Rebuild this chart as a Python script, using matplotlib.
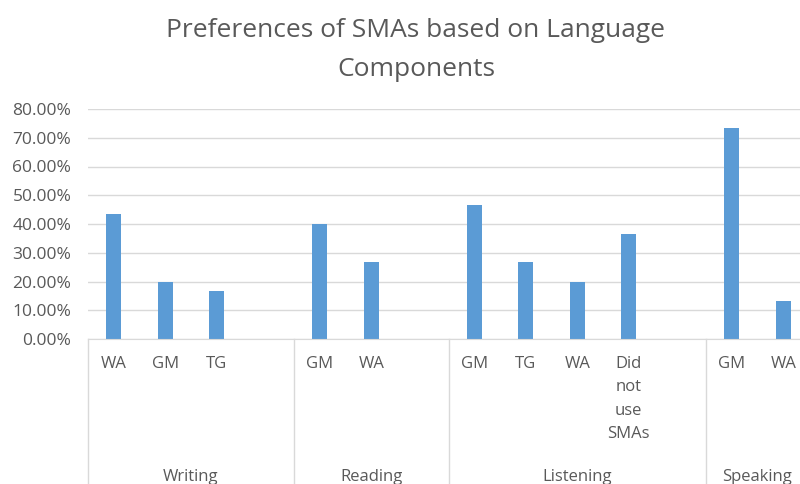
import matplotlib
matplotlib.use("Agg")
import matplotlib.pyplot as plt
from matplotlib.ticker import PercentFormatter, MultipleLocator
import matplotlib.transforms as mtransforms

plt.rcParams['font.family'] = ['Open Sans', 'DejaVu Sans']

# data
groups = ['Writing', 'Reading', 'Listening', 'Speaking']
group_items = [
    ['WA', 'GM', 'TG'],
    ['GM', 'WA'],
    ['GM', 'TG', 'WA', 'Did\nnot\nuse\nSMAs'],
    ['GM', 'WA'],
]
group_values = [
    [0.4333, 0.20, 0.1667],
    [0.40, 0.2667],
    [0.4667, 0.2667, 0.20, 0.3667],
    [0.7333, 0.1333],
]
# each group (except the last) gets one empty slot at its end
group_slots = [4, 3, 5, 2]

bar_color = '#5b9bd5'
text_color = '#595959'
grid_color = '#d9d9d9'

fig = plt.figure(figsize=(8, 4.84), dpi=100)
W, H = 800, 484
slot_px = 51.5
left_px, bottom_px, top_px = 88, 339, 109
total_slots = sum(group_slots)
ax = fig.add_axes([left_px / W, 1 - bottom_px / H,
                   total_slots * slot_px / W, (bottom_px - top_px) / H])

trans = mtransforms.blended_transform_factory(ax.transData, ax.transAxes)

start = 0
boundaries = [-0.5]
for name, items, vals, n in zip(groups, group_items, group_values, group_slots):
    xs = [start + i for i in range(len(items))]
    ax.bar(xs, vals, width=0.29, color=bar_color, zorder=3)
    for x, lab in zip(xs, items):
        ax.text(x, -0.075, lab, transform=trans, ha='center', va='top',
                fontsize=12, color=text_color, linespacing=1.6)
    mid = start - 0.5 + n / 2
    ax.text(mid, -0.6, name, transform=trans, ha='center', va='center',
            fontsize=12, color=text_color)
    start += n
    boundaries.append(start - 0.5)

for b in boundaries[:-1]:
    ax.plot([b, b], [0, -1], transform=trans, color=grid_color, lw=1,
            clip_on=False, zorder=2)

ax.set_xlim(-0.5, total_slots - 0.5)
ax.set_ylim(0, 0.8)
ax.yaxis.set_major_locator(MultipleLocator(0.1))
ax.yaxis.set_major_formatter(PercentFormatter(xmax=1, decimals=2))
ax.set_xticks([])
ax.tick_params(axis='y', length=0, pad=12, labelsize=12.5, labelcolor=text_color)
ax.grid(axis='y', color=grid_color, lw=1, zorder=0)
for s in ['left', 'right', 'top']:
    ax.spines[s].set_visible(False)
ax.spines['bottom'].set_color(grid_color)
ax.spines['bottom'].set_zorder(4)

fig.text(416 / W, 1 - 50 / H, 'Preferences of SMAs based on Language\nComponents',
         ha='center', va='center', fontsize=19, color=text_color, linespacing=1.7)

fig.savefig('out.png', dpi=100)
